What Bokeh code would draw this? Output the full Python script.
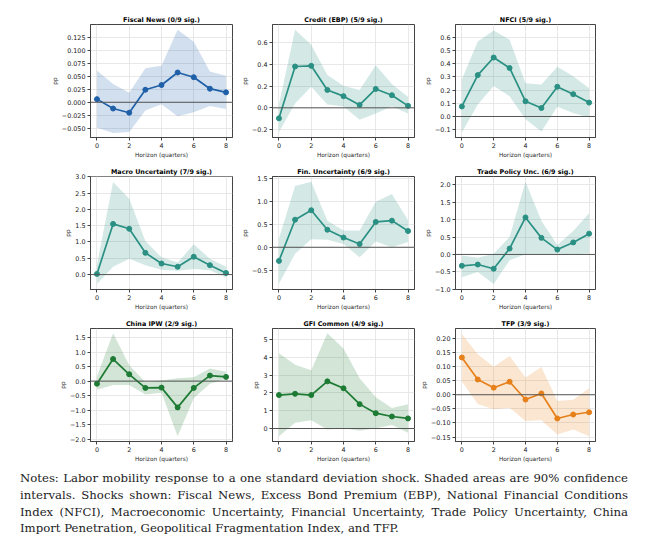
from bokeh.plotting import figure
from bokeh.layouts import gridplot, column
from bokeh.models import Range1d, FixedTicker, Span, Div, CustomJSTickFormatter
from bokeh.embed import file_html
from bokeh.resources import INLINE

horizon = [0, 1, 2, 3, 4, 5, 6, 7, 8]

titles = ["Fiscal News (0/9 sig.)", "Credit (EBP) (5/9 sig.)", "NFCI (5/9 sig.)",
          "Macro Uncertainty (7/9 sig.)", "Fin. Uncertainty (6/9 sig.)", "Trade Policy Unc. (6/9 sig.)",
          "China IPW (2/9 sig.)", "GFI Common (4/9 sig.)", "TFP (3/9 sig.)"]

fiscal_irf = [0.006, -0.012, -0.020, 0.024, 0.033, 0.057, 0.048, 0.026, 0.019]
fiscal_hi = [0.061, 0.035, 0.018, 0.065, 0.070, 0.139, 0.116, 0.059, 0.051]
fiscal_lo = [-0.049, -0.059, -0.057, -0.016, -0.004, -0.027, -0.019, -0.007, -0.013]

ebp_irf = [-0.096, 0.379, 0.385, 0.164, 0.107, 0.027, 0.173, 0.116, 0.018]
ebp_hi = [0.033, 0.716, 0.579, 0.301, 0.203, 0.164, 0.391, 0.218, 0.099]
ebp_lo = [-0.221, 0.039, 0.194, 0.030, 0.012, -0.110, -0.051, 0.015, -0.051]

nfci_irf = [0.076, 0.313, 0.446, 0.367, 0.115, 0.064, 0.225, 0.169, 0.105]
nfci_hi = [0.282, 0.568, 0.651, 0.580, 0.252, 0.242, 0.377, 0.304, 0.213]
nfci_lo = [-0.122, 0.091, 0.230, 0.154, -0.020, -0.113, 0.073, 0.027, -0.007]

macro_irf = [0.02, 1.555, 1.405, 0.668, 0.339, 0.239, 0.548, 0.289, 0.05]
macro_hi = [0.309, 2.84, 2.33, 1.027, 0.528, 0.369, 0.927, 0.488, 0.239]
macro_lo = [-0.289, 0.239, 0.488, 0.289, 0.150, 0.120, 0.169, 0.130, -0.090]

fin_irf = [-0.297, 0.601, 0.807, 0.382, 0.212, 0.071, 0.552, 0.580, 0.354]
fin_hi = [0.191, 1.337, 1.429, 0.580, 0.368, 0.368, 0.99, 1.16, 0.587]
fin_lo = [-0.792, -0.141, 0.177, 0.163, 0.071, -0.219, 0.127, 0.0, 0.113]

tpu_irf = [-0.327, -0.290, -0.411, 0.168, 1.065, 0.477, 0.140, 0.346, 0.598]
tpu_hi = [-0.028, -0.093, 0.019, 0.505, 2.09, 0.972, 0.271, 0.673, 1.187]
tpu_lo = [-0.654, -0.505, -0.850, -0.168, 0.009, 0.009, 0.019, 0.009, 0.028]

china_irf = [-0.09, 0.761, 0.235, -0.235, -0.224, -0.906, -0.235, 0.19, 0.145]
china_hi = [0.168, 1.645, 0.548, -0.034, 0.022, 0.10, 0.134, 0.436, 0.325]
china_lo = [-0.302, -0.134, -0.134, -0.459, -0.403, -1.90, -0.593, -0.09, 0.078]

gfi_irf = [1.88, 1.95, 1.88, 2.65, 2.26, 1.37, 0.86, 0.675, 0.566]
gfi_hi = [4.23, 3.58, 3.28, 5.35, 4.49, 2.83, 1.75, 1.15, 1.37]
gfi_lo = [-0.44, 0.33, 0.46, -0.055, 0.02, -0.13, 0.02, 0.2, -0.24]

tfp_irf = [0.132, 0.054, 0.025, 0.046, -0.017, 0.0046, -0.084, -0.070, -0.062]
tfp_hi = [0.215, 0.143, 0.099, 0.137, 0.061, 0.098, -0.022, -0.018, 0.023]
tfp_lo = [0.047, -0.033, -0.051, -0.046, -0.093, -0.090, -0.141, -0.123, -0.147]

irfs = [fiscal_irf, ebp_irf, nfci_irf, macro_irf, fin_irf, tpu_irf, china_irf, gfi_irf, tfp_irf]
his = [fiscal_hi, ebp_hi, nfci_hi, macro_hi, fin_hi, tpu_hi, china_hi, gfi_hi, tfp_hi]
los = [fiscal_lo, ebp_lo, nfci_lo, macro_lo, fin_lo, tpu_lo, china_lo, gfi_lo, tfp_lo]

y_limits = [(-0.0675, 0.149), (-0.272, 0.764), (-0.159, 0.696),
            (-0.458, 3.01), (-0.92, 1.542), (-1.009, 2.243),
            (-2.082, 1.813), (-0.73, 5.62), (-0.1655, 0.2345)]

y_ticks = [[-0.050, -0.025, 0.0, 0.025, 0.050, 0.075, 0.100, 0.125],
           [-0.2, 0.0, 0.2, 0.4, 0.6],
           [-0.1, 0.0, 0.1, 0.2, 0.3, 0.4, 0.5, 0.6],
           [0.0, 0.5, 1.0, 1.5, 2.0, 2.5, 3.0],
           [-0.5, 0.0, 0.5, 1.0, 1.5],
           [-1.0, -0.5, 0.0, 0.5, 1.0, 1.5, 2.0],
           [-2.0, -1.5, -1.0, -0.5, 0.0, 0.5, 1.0, 1.5],
           [0, 1, 2, 3, 4, 5],
           [-0.15, -0.10, -0.05, 0.0, 0.05, 0.10, 0.15, 0.20]]
y_decimals = [3, 1, 1, 1, 1, 1, 1, 0, 2]
x_ticks = [0, 2, 4, 6, 8]

BLUE = "#2060a8"
TEAL = "#2a9083"
GREEN = "#1e7b34"
ORANGE = "#e6801a"
colors = [BLUE, TEAL, TEAL, TEAL, TEAL, TEAL, GREEN, GREEN, ORANGE]

FONT = "DejaVu Sans"
col_width = [227, 182, 181]
col_left = [82, 37, 36]

figs = []
for i in range(9):
    c = i % 3
    lo_lim, hi_lim = y_limits[i]
    p = figure(width=col_width[c], height=152, output_backend="svg", toolbar_location=None,
               x_range=Range1d(-0.4, 8.4), y_range=Range1d(lo_lim, hi_lim),
               min_border_left=col_left[c], min_border_right=3,
               min_border_top=16, min_border_bottom=20, title=titles[i])
    p.title.text_font = FONT
    p.title.text_font_size = "6.4px"
    p.title.text_font_style = "bold"
    p.title.text_color = "#000000"
    p.title.text_line_height = 1.0
    p.title.align = "center"
    p.title.standoff = 2
    p.title.offset = 0

    col = colors[i]
    p.varea(x=horizon, y1=los[i], y2=his[i], fill_color=col, fill_alpha=0.2)
    p.add_layout(Span(location=0, dimension="width", line_color="#555555", line_width=1))
    p.line(horizon, irfs[i], line_color=col, line_width=1.7)
    p.scatter(horizon, irfs[i], size=5, fill_color=col, line_color=col)

    p.xaxis.ticker = FixedTicker(ticks=x_ticks)
    p.yaxis.ticker = FixedTicker(ticks=y_ticks[i])
    p.yaxis.formatter = CustomJSTickFormatter(args=dict(d=y_decimals[i]),
                                              code="return tick.toFixed(d).replace('-', '\u2212');")
    p.xaxis.axis_label = "Horizon (quarters)"
    p.yaxis.axis_label = "pp"
    for ax in (p.xaxis, p.yaxis):
        ax.axis_label_text_font = FONT
        ax.axis_label_text_font_size = "5.8px"
        ax.axis_label_text_font_style = "normal"
        ax.axis_label_text_color = "#2a2a2a"
        ax.axis_label_text_line_height = 1.0
        ax.axis_label_standoff = 1
        ax.major_label_text_font = FONT
        ax.major_label_text_font_size = "6.4px"
        ax.major_label_text_color = "#222222"
        ax.major_label_text_line_height = 1.0
        ax.major_label_standoff = 2
        ax.major_tick_out = 3
        ax.major_tick_in = 0
        ax.minor_tick_out = 0
        ax.minor_tick_in = 0
        ax.major_tick_line_color = "#444444"
        ax.axis_line_color = "#444444"
    p.grid.grid_line_color = "#e2e2e2"
    p.grid.grid_line_width = 0.8
    p.outline_line_color = "#444444"
    p.outline_line_width = 1
    p.outline_line_alpha = 1
    figs.append(p)

grid = gridplot([figs[0:3], figs[3:6], figs[6:9]], toolbar_location=None)

notes = ("Notes: Labor mobility response to a one standard deviation shock. Shaded areas are 90% confidence "
         "intervals. Shocks shown: Fiscal News, Excess Bond Premium (EBP), National Financial Conditions "
         "Index (NFCI), Macroeconomic Uncertainty, Financial Uncertainty, Trade Policy Uncertainty, China "
         "Import Penetration, Geopolitical Fragmentation Index, and TFP.")
div = Div(text=notes, width=608, margin=(6, 0, 0, 12),
          styles={"font-family": "'DejaVu Serif', serif", "font-size": "11.7px",
                  "line-height": "16.8px", "text-align": "justify", "color": "#222222"})

layout = column(grid, div, margin=(8, 0, 0, 8))
open("out.html", "w").write(file_html(layout, INLINE))
